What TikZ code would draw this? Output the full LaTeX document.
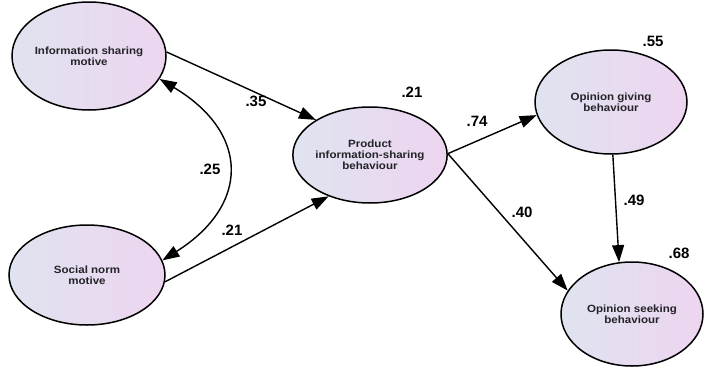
\documentclass[tikz,border=0pt]{standalone}
\usepackage{fontspec}
\setmainfont{Liberation Sans}
\newfontfamily\nodefont[FakeStretch=1.1]{Liberation Sans}
\usetikzlibrary{arrows.meta,shapes.geometric}
\definecolor{fillL}{RGB}{224,227,240}
\definecolor{fillR}{RGB}{237,213,240}
\definecolor{txt}{RGB}{35,35,40}
\begin{document}
\begin{tikzpicture}[x=1pt,y=-1pt,
  ell/.style={ellipse, draw=black, line width=1.5pt, left color=fillL, right color=fillR,
    inner sep=0pt, align=center, text=txt,
    font=\nodefont\bfseries\fontsize{10.5}{10.8}\selectfont},
  lab/.style={font=\bfseries\fontsize{15}{17}\selectfont, inner sep=0pt},
  arr/.style={line width=1.4pt, -{Triangle[length=17pt,width=12pt]}},
  arrtwo/.style={line width=1.4pt, {Triangle[length=17pt,width=12pt]}-{Triangle[length=17pt,width=12pt]}}]
\useasboundingbox (0,0) rectangle (704,367);
\node[ell, minimum width=154pt, minimum height=108pt] (ism) at (89,56) {Information sharing\\motive};
\node[ell, minimum width=156pt, minimum height=100pt] (snm) at (87,275) {Social norm\\motive};
\node[ell, minimum width=152pt, minimum height=96pt] (prod) at (370,155) {Product\\information-sharing\\behaviour};
\node[ell, minimum width=152pt, minimum height=104pt] (og) at (611,102) {Opinion giving\\behaviour};
\node[ell, minimum width=142pt, minimum height=104pt] (os) at (632,314) {Opinion seeking\\behaviour};
\draw[arr] (ism.3) -- (prod.147);
\draw[arr] (snm.-5) -- (prod.225);
\draw[arr] (prod.1) -- (og.190);
\draw[arr] (prod.1) -- (os.160);
\draw[arr] (og.-88) -- (os.104);
\draw[arrtwo] (ism.-18) .. controls (250,133) and (250,205) .. (snm.11);
\node[lab] (l35) at (256,101) {.35};
\node[lab] (l21p) at (412,92) {.21};
\node[lab] (l25) at (210,169) {.25};
\node[lab] (l21) at (232,230) {.21};
\node[lab] (l74) at (477,121) {.74};
\node[lab] (l40) at (522,212) {.40};
\node[lab] (l49) at (634,200) {.49};
\node[lab] (l55) at (653,41) {.55};
\node[lab] (l68) at (679,253) {.68};
\end{tikzpicture}
\end{document}
